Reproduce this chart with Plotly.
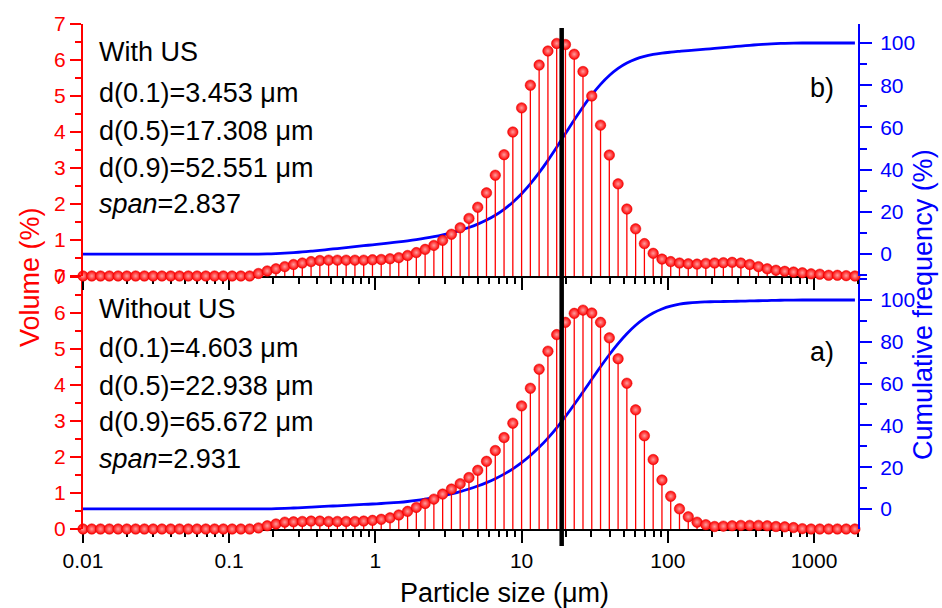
import plotly.graph_objects as go

# ---------------- data ----------------
sizes = [0.01, 0.01148, 0.01318, 0.01514, 0.01738, 0.01995, 0.02291, 0.0263, 0.0302, 0.03467,
         0.03981, 0.04571, 0.05248, 0.06026, 0.06918, 0.07943, 0.0912, 0.1047, 0.1202, 0.138,
         0.1585, 0.182, 0.2089, 0.2399, 0.2754, 0.3162, 0.3631, 0.4169, 0.4786, 0.5495,
         0.631, 0.7244, 0.8318, 0.955, 1.096, 1.259, 1.445, 1.66, 1.905, 2.188,
         2.512, 2.884, 3.311, 3.802, 4.365, 5.012, 5.754, 6.607, 7.586, 8.71,
         10.0, 11.48, 13.18, 15.14, 17.38, 19.95, 22.91, 26.3, 30.2, 34.67,
         39.81, 45.71, 52.48, 60.26, 69.18, 79.43, 91.2, 104.7, 120.2, 138.0,
         158.5, 182.0, 208.9, 239.9, 275.4, 316.2, 363.1, 416.9, 478.6, 549.5,
         631.0, 724.4, 831.8, 955.0, 1096, 1259, 1445, 1660, 1905]

vol_with_us = [0]*20 + [
    0.07, 0.14, 0.20, 0.26, 0.32, 0.36, 0.40, 0.43, 0.44, 0.44, 0.44, 0.44, 0.44, 0.45, 0.46, 0.48,
    0.51, 0.57, 0.65, 0.74, 0.85, 0.99, 1.16, 1.34, 1.60, 1.91, 2.31, 2.80, 3.37, 4.00, 4.67,
    5.30, 5.86, 6.25, 6.46, 6.43, 6.16, 5.68, 5.00, 4.19, 3.36, 2.56, 1.86, 1.31, 0.90, 0.63,
    0.47, 0.40, 0.36, 0.34, 0.33, 0.35, 0.36, 0.37, 0.38, 0.36, 0.32, 0.26, 0.20, 0.16, 0.13,
    0.11, 0.09, 0.06, 0.05, 0.02, 0.02, 0.01, 0.0]

cum_with_us = [0]*21 + [
    0.07, 0.21, 0.41, 0.67, 0.99, 1.35, 1.75, 2.18, 2.62, 3.06, 3.50, 3.94, 4.38, 4.83, 5.29,
    5.77, 6.28, 6.85, 7.50, 8.24, 9.09, 10.08, 11.24, 12.58, 14.18, 16.09, 18.40, 21.20, 24.57,
    28.57, 33.24, 38.54, 44.40, 50.65, 57.11, 63.54, 69.70, 75.38, 80.38, 84.57, 87.93, 90.49,
    92.35, 93.66, 94.56, 95.19, 95.66, 96.06, 96.42, 96.76, 97.09, 97.44, 97.80, 98.17, 98.55,
    98.91, 99.23, 99.49, 99.69, 99.85, 99.95, 100, 100, 100, 100, 100, 100, 100]

vol_without_us = [0]*20 + [
    0.03, 0.09, 0.14, 0.19, 0.20, 0.21, 0.22, 0.22, 0.21, 0.21, 0.21, 0.21, 0.22, 0.24, 0.27, 0.31,
    0.39, 0.49, 0.60, 0.71, 0.83, 0.97, 1.11, 1.26, 1.43, 1.63, 1.88, 2.18, 2.54, 2.94, 3.42,
    3.91, 4.44, 4.94, 5.40, 5.74, 5.99, 6.08, 6.00, 5.74, 5.31, 4.73, 4.05, 3.31, 2.59, 1.93,
    1.36, 0.91, 0.56, 0.34, 0.19, 0.12, 0.07, 0.08, 0.09, 0.10, 0.10, 0.10, 0.09, 0.07, 0.06,
    0.04, 0.01, 0, 0, 0, 0, 0, 0]

cum_without_us = [0]*21 + [
    0.03, 0.12, 0.26, 0.45, 0.65, 0.86, 1.08, 1.30, 1.51, 1.72, 1.93, 2.14, 2.36, 2.60, 2.87,
    3.18, 3.57, 4.06, 4.66, 5.37, 6.20, 7.17, 8.28, 9.54, 10.97, 12.60, 14.48, 16.66, 19.20,
    22.14, 25.56, 29.47, 33.91, 38.85, 44.25, 49.99, 55.98, 62.06, 68.06, 73.80, 79.11, 83.84,
    87.89, 91.20, 93.79, 95.72, 97.08, 97.99, 98.55, 98.89, 99.08, 99.20, 99.27, 99.35, 99.44,
    99.54, 99.64, 99.74, 99.83, 99.90, 99.96, 100, 100, 100, 100, 100, 100, 100]

marker_line_size = 18.8   # vertical reference line (µm)

tick_vals = [0.01, 0.1, 1, 10, 100, 1000]
tick_text = ["0.01", "0.1", "1", "10", "100", "1000"]

labels_top = ["With US", "d(0.1)=3.453 μm", "d(0.5)=17.308 μm", "d(0.9)=52.551 μm", "<i>span</i>=2.837"]
labels_bot = ["Without US", "d(0.1)=4.603 μm", "d(0.5)=22.938 μm", "d(0.9)=65.672 μm", "<i>span</i>=2.931"]

# ---------------- layout geometry ----------------
W, H = 942, 608
L, R, T, B = 83, 858, 24, 529
def xp(px): return (px - L) / (R - L)
def yp(py): return (B - py) / (B - T)

FONT = "Liberation Sans, Arial, Helvetica, sans-serif"
RED, BLUE = "#ff0000", "#0000ff"

minor_vals = [m * 10**e for e in range(-2, 4) for m in range(2, 10)]

fig = go.Figure()

def add_panel(vol, cum, xa, ycum, yvol):
    fig.add_trace(go.Scatter(x=sizes, y=cum, mode="lines", xaxis=xa, yaxis=ycum,
                             line=dict(color=BLUE, width=2.8, shape="spline"),
                             showlegend=False, hoverinfo="skip"))
    fig.add_trace(go.Scatter(x=sizes, y=vol, mode="markers", xaxis=xa, yaxis=yvol,
                             cliponaxis=False,
                             marker=dict(size=10.5, color=RED,
                                         gradient=dict(type="radial", color="#ff9c9c"),
                                         line=dict(color="#e00000", width=0.5)),
                             error_y=dict(type="data", symmetric=False, array=[0]*len(vol),
                                          arrayminus=vol, width=0, thickness=1.3, color=RED),
                             showlegend=False, hoverinfo="skip"))

add_panel(vol_without_us, cum_without_us, "x", "y", "y2")
add_panel(vol_with_us, cum_with_us, "x2", "y3", "y4")

xcommon = dict(type="log", range=[-2, 3.301], showline=True, linecolor="black", linewidth=2,
               showgrid=False, zeroline=False, tickcolor="black", tickwidth=2, layer="below traces")

def cum_axis(**kw):
    d = dict(side="right", tickmode="linear", tick0=0, dtick=20, showline=True, linecolor=BLUE,
             linewidth=2, ticks="outside", ticklen=12, tickwidth=2, tickcolor=BLUE,
             ticklabelstandoff=4,
             tickfont=dict(size=21, color=BLUE), showgrid=False, zeroline=False,
             minor=dict(tick0=0, dtick=10, ticks="outside", ticklen=7, tickwidth=2,
                        tickcolor=BLUE, showgrid=False))
    d.update(kw)
    return d

def vol_axis(**kw):
    d = dict(side="left", range=[0, 7], tickmode="linear", tick0=0, dtick=1, showline=True,
             linecolor=RED, linewidth=2, ticks="outside", ticklen=11, tickwidth=2, tickcolor=RED,
             tickfont=dict(size=21, color=RED), showgrid=False, zeroline=False,
             minor=dict(tick0=0, dtick=0.5, ticks="outside", ticklen=6, tickwidth=2,
                        tickcolor=RED, showgrid=False))
    d.update(kw)
    return d

fig.update_layout(
    width=W, height=H,
    margin=dict(l=L, r=W - R, t=T, b=H - B),
    paper_bgcolor="white", plot_bgcolor="white",
    font=dict(family=FONT, color="black"),
    xaxis=dict(**xcommon, anchor="y", ticks="outside", ticklen=12,
               tickvals=tick_vals, ticktext=tick_text,
               tickfont=dict(size=21, color="black"),
               minor=dict(tickvals=minor_vals, ticks="outside", ticklen=6,
                          tickcolor="black", tickwidth=2, showgrid=False)),
    xaxis2=dict(**xcommon, anchor="y3", matches="x", ticks="outside", ticklen=12,
                tickvals=tick_vals, showticklabels=False,
                minor=dict(tickvals=minor_vals, ticks="outside", ticklen=6,
                           tickcolor="black", tickwidth=2, showgrid=False)),
    xaxis3=dict(**xcommon, anchor="y3", overlaying="x2", side="top", ticks="inside", ticklen=10,
                tickvals=tick_vals, showticklabels=False,
                minor=dict(tickvals=minor_vals, ticks="inside", ticklen=6,
                           tickcolor="black", tickwidth=2, showgrid=False)),
    yaxis=cum_axis(domain=[0, 0.499], anchor="x", range=[-9.6, 111]),
    yaxis2=vol_axis(overlaying="y", anchor="x"),
    yaxis3=cum_axis(domain=[0.501, 1], anchor="x2", range=[-10.4, 109]),
    yaxis4=vol_axis(overlaying="y3", anchor="x2"),
)

# vertical reference line
fig.add_shape(type="line", xref="x", yref="paper", x0=marker_line_size, x1=marker_line_size,
              y0=yp(546), y1=yp(28), line=dict(color="black", width=4.5), layer="above")

TXT = 27
annots = []
top_y = [52, 93, 131, 168, 204]
bot_y = [309, 348, 386, 422, 459]
for txt, py in zip(labels_top, top_y):
    annots.append(dict(text=txt, x=xp(97), y=yp(py), xref="paper", yref="paper",
                       xanchor="left", yanchor="middle", showarrow=False,
                       font=dict(size=TXT, color="black", family=FONT)))
for txt, py in zip(labels_bot, bot_y):
    annots.append(dict(text=txt, x=xp(97), y=yp(py), xref="paper", yref="paper",
                       xanchor="left", yanchor="middle", showarrow=False,
                       font=dict(size=TXT, color="black", family=FONT)))
annots.append(dict(text="b)", x=xp(808), y=yp(88), xref="paper", yref="paper",
                   xanchor="left", yanchor="middle", showarrow=False,
                   font=dict(size=TXT, color="black", family=FONT)))
annots.append(dict(text="a)", x=xp(808), y=yp(352), xref="paper", yref="paper",
                   xanchor="left", yanchor="middle", showarrow=False,
                   font=dict(size=TXT, color="black", family=FONT)))
annots.append(dict(text="Volume (%)", x=xp(30), y=yp(277), xref="paper", yref="paper",
                   xanchor="center", yanchor="middle", textangle=-90, showarrow=False,
                   font=dict(size=27, color=RED, family=FONT)))
annots.append(dict(text="Cumulative frequency (%)", x=xp(923), y=yp(305), xref="paper", yref="paper",
                   xanchor="center", yanchor="middle", textangle=-90, showarrow=False,
                   font=dict(size=27, color=BLUE, family=FONT)))
annots.append(dict(text="Particle size (μm)", x=xp(398), y=yp(593), xref="paper", yref="paper",
                   xanchor="left", yanchor="middle", showarrow=False,
                   font=dict(size=27, color="black", family=FONT)))
fig.update_layout(annotations=annots)

fig.write_html("out.html", config={"displayModeBar": False},
               post_script="document.body.style.margin='0px';document.body.style.padding='0px';")
